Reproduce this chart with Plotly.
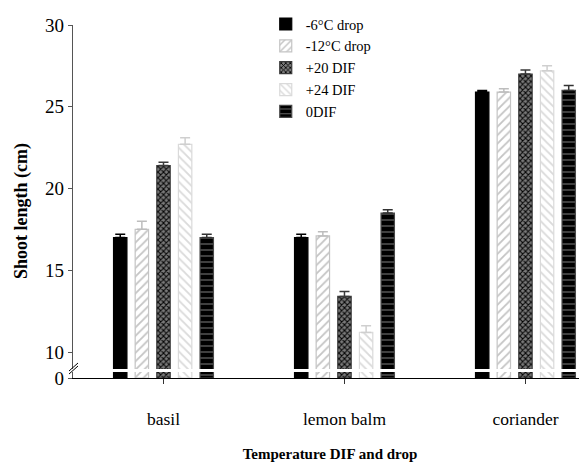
import plotly.graph_objects as go

categories = ["basil", "lemon balm", "coriander"]
series_names = ["-6°C drop", "-12°C drop", "+20 DIF", "+24 DIF", "0DIF"]
values = {
    "-6°C drop": [17.0, 17.0, 25.9],
    "-12°C drop": [17.5, 17.1, 25.9],
    "+20 DIF": [21.4, 13.4, 27.0],
    "+24 DIF": [22.7, 11.2, 27.2],
    "0DIF": [17.0, 18.5, 26.0],
}
errors = {
    "-6°C drop": [0.2, 0.2, 0.1],
    "-12°C drop": [0.5, 0.25, 0.2],
    "+20 DIF": [0.2, 0.3, 0.25],
    "+24 DIF": [0.4, 0.4, 0.3],
    "0DIF": [0.2, 0.2, 0.3],
}
y_ticks_top = [10, 15, 20, 25, 30]

SERIF = "Liberation Serif"

styles = {
    "-6°C drop": dict(color="black", line="black", err="black", shape="", fg="black", bg="black", size=6, sol=0.3),
    "-12°C drop": dict(color="white", line="#c4c4c4", err="#bdbdbd", shape="/", fg="#c4c4c4", bg="white", size=6, sol=0.3),
    "+20 DIF": dict(color="#7a7a7a", line="#3a3a3a", err="#3a3a3a", shape="x", fg="black", bg="#7a7a7a", size=4, sol=0.45),
    "+24 DIF": dict(color="white", line="#dadada", err="#cfcfcf", shape="\\", fg="#dadada", bg="white", size=6, sol=0.3),
    "0DIF": dict(color="black", line="#4a4a4a", err="#333333", shape="-", fg="#6a6a6a", bg="black", size=6, sol=0.2),
}

pitch = 0.1195
bw = 0.074

# page body has an 8px margin: figure drawn from (8,8)
W, H = 579, 454
L, T, B = 65, 17, 84
PH = H - T - B  # plot height (353)
PW = W - L

fig = go.Figure()
for j, name in enumerate(series_names):
    s = styles[name]
    off = (j - 2) * pitch - bw / 2
    marker = dict(color=s["color"], line=dict(color=s["line"], width=1.2),
                  pattern=dict(shape=s["shape"], fgcolor=s["fg"], bgcolor=s["bg"],
                               size=s["size"], solidity=s["sol"], fillmode="replace"))
    fig.add_trace(go.Bar(x=categories, y=values[name], name=name, offset=off, width=bw,
                         marker=marker, xaxis="x", yaxis="y",
                         error_y=dict(type="data", array=errors[name], arrayminus=[0]*3,
                                      symmetric=False, color=s["err"], thickness=1.5, width=5)))
    fig.add_trace(go.Bar(x=categories, y=values[name], name=name, offset=off, width=bw,
                         marker=marker, xaxis="x", yaxis="y2", showlegend=False))

fig.update_layout(
    width=W, height=H,
    margin=dict(l=L, r=0, t=T, b=B, autoexpand=False),
    plot_bgcolor="white", paper_bgcolor="white",
    barmode="overlay",
    font=dict(family=SERIF, color="black"),
    legend=dict(x=0.375, y=1.048, xanchor="left", yanchor="top", bgcolor="rgba(0,0,0,0)",
                font=dict(size=14.5, family=SERIF), itemwidth=30, tracegroupgap=0),
    xaxis=dict(range=[-0.5, 2.34], anchor="y2", showline=True, linecolor="black", linewidth=1.2,
               ticks="outside", ticklen=5, tickcolor="#333", showgrid=False, automargin=False,
               ticklabelstandoff=20,
               tickfont=dict(size=17.5, family=SERIF, color="black"),
               title=dict(text="<b>Temperature DIF and drop</b>", font=dict(size=15, family=SERIF),
                          standoff=20)),
    yaxis=dict(domain=[9/PH, 1], range=[8.96, 30], tickvals=y_ticks_top, anchor="x",
               ticks="outside", ticklen=4, tickcolor="#555", showline=True,
               linecolor="#555", linewidth=1.2, showgrid=False, zeroline=False, automargin=False,
               tickfont=dict(size=19, family=SERIF)),
    yaxis2=dict(domain=[0, 6/PH], range=[0, 5], tickvals=[0], ticktext=["0"], anchor="x",
                ticks="outside", ticklen=4, tickcolor="#555", showline=True,
                linecolor="#555", linewidth=1.2, showgrid=False, zeroline=False, automargin=False,
                tickfont=dict(size=19, family=SERIF)),
)

# y-axis title (placed slightly below the plot centre as in the original)
fig.add_annotation(text="<b>Shoot length (cm)</b>", textangle=-90, showarrow=False,
                   xref="paper", yref="paper", x=(13 - L) / PW, y=(370 - 203) / PH,
                   xanchor="center", yanchor="middle",
                   font=dict(size=18, family=SERIF, color="black"))

# axis break marks
for dy in (0, 3):
    fig.add_shape(type="line", xref="paper", yref="paper",
                  x0=-4 / PW, x1=5 / PW,
                  y0=(4 + dy) / PH, y1=(12 + dy) / PH,
                  line=dict(color="black", width=1))

fig.write_html("out.html")
